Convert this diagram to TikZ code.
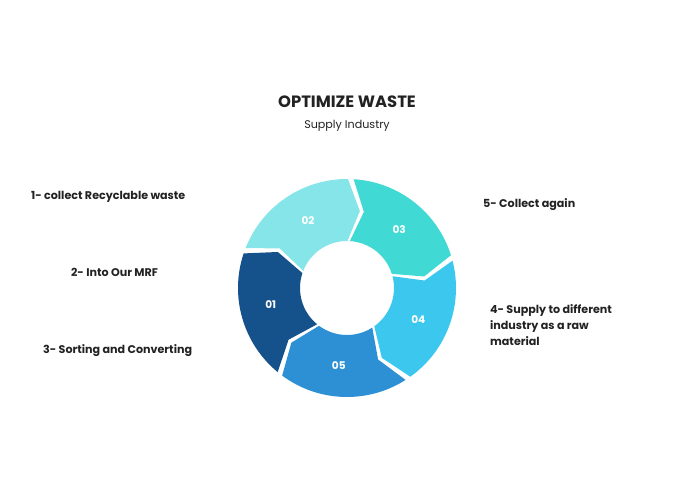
\documentclass[tikz,border=0pt]{standalone}
\usepackage{fontspec}
\setmainfont{Poppins}
\usetikzlibrary{calc}
\definecolor{segA}{HTML}{15518A}
\definecolor{segB}{HTML}{86E5E8}
\definecolor{segC}{HTML}{40D9D4}
\definecolor{segD}{HTML}{3CC8EE}
\definecolor{segE}{HTML}{2E90D4}
\definecolor{ink}{HTML}{222222}
\begin{document}
\begin{tikzpicture}[x=0.03cm, y=0.03cm]
        % ================= 样式 =================
        \tikzset{
            title/.style={font=\bfseries\fontsize{14}{16}\selectfont, text=ink},
            subtitle/.style={font=\fontsize{9.5}{11}\selectfont, text=ink},
            step_label/.style={font=\bfseries\fontsize{9.5}{14}\selectfont, text=ink, anchor=west, align=left},
            seg_num/.style={font=\bfseries\fontsize{9}{10}\selectfont, text=white}
        }
        \useasboundingbox (0,0) rectangle (695,494);

        % ================= 环 =================
        \coordinate (c) at (347,206);
        \def\Ro{109}
        \def\Rm{78}
        \def\Ri{47}
        \def\d{9}
        % 每段: 起始角(后端) / 颜色 / 编号
        \foreach \a/\col/\num in {232/segA/01, 160/segB/02, 88/segC/03, 16/segD/04, -56/segE/05}{
            \pgfmathsetmacro{\s}{\a-1.5}
            \pgfmathsetmacro{\e}{\a-70.5}
            \fill[\col] ($(c)+(\s:\Ro)$) arc[start angle=\s, end angle=\e, radius=\Ro]
                -- ($(c)+(\e-\d:\Rm)$) -- ($(c)+(\e:\Ri)$)
                arc[start angle=\e, end angle=\s, radius=\Ri]
                -- ($(c)+(\s-\d:\Rm)$) -- cycle;
            \node[seg_num] (n\num) at ($(c)+(\a-40:\Rm)$) {\num};
        }

        % ================= 文本 =================
        \node[title] (ttl) at (347,392) {OPTIMIZE WASTE};
        \node[subtitle] (sub) at (347,368) {Supply Industry};
        \node[step_label] (s1) at (27,297) {1- collect Recyclable waste};
        \node[step_label] (s2) at (67,222) {2- Into Our MRF};
        \node[step_label] (s3) at (39,143) {3- Sorting and Converting};
        \node[step_label] (s5) at (479,289) {5- Collect again};
        \node[step_label] (s4) at (486,169) {4- Supply to different\\industry as a raw\\material};
\end{tikzpicture}
\end{document}
